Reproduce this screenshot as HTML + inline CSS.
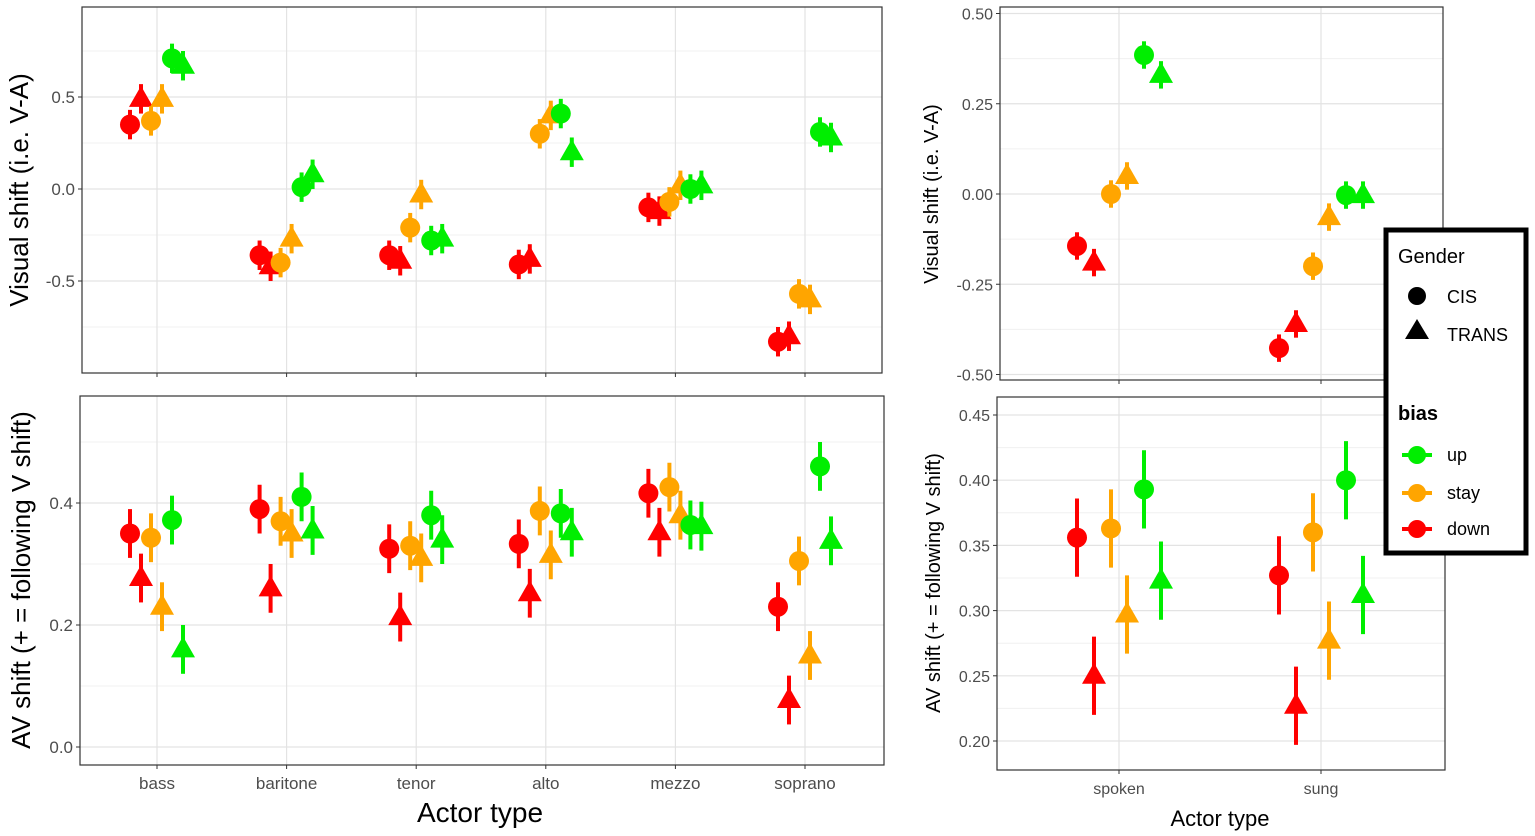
<!DOCTYPE html>
<html><head><meta charset="utf-8">
<style>
html,body{margin:0;padding:0;background:#fff;}
svg{display:block;font-family:"Liberation Sans",sans-serif;}
</style></head>
<body>
<svg id="chart" width="1535" height="836" viewBox="0 0 1535 836" xmlns="http://www.w3.org/2000/svg"></svg>
<script>
// ---- Data ----
const leftCategories = ["bass","baritone","tenor","alto","mezzo","soprano"];
const rightCategories = ["spoken","sung"];
const groups = ["down-CIS","down-TRANS","stay-CIS","stay-TRANS","up-CIS","up-TRANS"];
// Top-left: visual shift
const tlDownCis   = [0.35,-0.36,-0.36,-0.41,-0.10,-0.83];
const tlDownTrans = [0.49,-0.42,-0.39,-0.38,-0.12,-0.80];
const tlStayCis   = [0.37,-0.40,-0.21,0.30,-0.07,-0.57];
const tlStayTrans = [0.49,-0.27,-0.03,0.40,0.02,-0.60];
const tlUpCis     = [0.71,0.01,-0.28,0.41,0.00,0.31];
const tlUpTrans   = [0.67,0.08,-0.27,0.20,0.02,0.28];
const tlErr = 0.08;
// Bottom-left: AV shift
const blDownCis   = [0.35,0.39,0.325,0.333,0.416,0.23];
const blDownTrans = [0.277,0.26,0.213,0.252,0.352,0.077];
const blStayCis   = [0.343,0.37,0.33,0.387,0.426,0.305];
const blStayTrans = [0.23,0.35,0.31,0.315,0.38,0.15];
const blUpCis     = [0.372,0.41,0.38,0.383,0.364,0.46];
const blUpTrans   = [0.16,0.355,0.34,0.352,0.362,0.338];
const blErr = 0.04;
// Top-right
const trDownCis   = [-0.144,-0.427];
const trDownTrans = [-0.19,-0.36];
const trStayCis   = [0.0,-0.20];
const trStayTrans = [0.05,-0.064];
const trUpCis     = [0.385,-0.003];
const trUpTrans   = [0.33,-0.003];
const trErr = 0.038;
// Bottom-right
const brDownCis   = [0.356,0.327];
const brDownTrans = [0.25,0.227];
const brStayCis   = [0.363,0.36];
const brStayTrans = [0.297,0.277];
const brUpCis     = [0.393,0.40];
const brUpTrans   = [0.323,0.312];
const brErr = 0.03;
// Tick labels
const tlTicks = [-0.5,0.0,0.5];
const tlTickLabels = ["-0.5","0.0","0.5"];
const blTicks = [0.0,0.2,0.4];
const blTickLabels = ["0.0","0.2","0.4"];
const trTicks = [-0.5,-0.25,0,0.25,0.5];
const trTickLabels = ["-0.50","-0.25","0.00","0.25","0.50"];
const brTicks = [0.2,0.25,0.3,0.35,0.4,0.45];
const brTickLabels = ["0.20","0.25","0.30","0.35","0.40","0.45"];

const svg = document.getElementById('chart');
const NS = "http://www.w3.org/2000/svg";
function mk(tag, attrs, parent){const e=document.createElementNS(NS,tag);for(const k in attrs)e.setAttribute(k,attrs[k]);(parent||svg).appendChild(e);return e;}
const COL = {down:"#ff0000",stay:"#ffa500",up:"#00ee00"};
const groupColor=[COL.down,COL.down,COL.stay,COL.stay,COL.up,COL.up];
const groupTri=[false,true,false,true,false,true];

function panel(name, box, yfn, cats, xc, offsets, series, err, ticks, tickLabels, minors, showX, tickFont){
  const g = mk('g',{});
  
  
  mk('rect',{x:box.x0,y:box.y0,width:box.x1-box.x0,height:box.y1-box.y0,fill:'#fff'},g);
  minors.forEach(v=>mk('line',{x1:box.x0,x2:box.x1,y1:yfn(v),y2:yfn(v),stroke:'#f0f0f0','stroke-width':1},g));
  ticks.forEach((v,i)=>{
    mk('line',{x1:box.x0,x2:box.x1,y1:yfn(v),y2:yfn(v),stroke:'#e3e3e3','stroke-width':1.2},g);
    mk('line',{x1:box.x0-4,x2:box.x0,y1:yfn(v),y2:yfn(v),stroke:'#333','stroke-width':1},g);
    const t=mk('text',{x:box.x0-7,y:yfn(v)+6,'text-anchor':'end','font-size':tickFont,fill:'#4d4d4d'},g);
    
    
    t.textContent=tickLabels[i];
  });
  cats.forEach((c,i)=>{
    const x=xc(i);
    mk('line',{x1:x,x2:x,y1:box.y0,y2:box.y1,stroke:'#e3e3e3','stroke-width':1.2},g);
    mk('line',{x1:x,x2:x,y1:box.y1,y2:box.y1+4,stroke:'#333','stroke-width':1},g);
    if(showX){
      const t=mk('text',{x:x,y:box.y1+24,'text-anchor':'middle','font-size':tickFont,fill:'#4d4d4d'},g);
      
      
      t.textContent=c;
    }
  });
  series.forEach((vals,gi)=>{
    vals.forEach((v,ci)=>{
      const x=xc(ci)+offsets[gi];
      const y=yfn(v), col=groupColor[gi];
      mk('line',{x1:x,x2:x,y1:yfn(v+err),y2:yfn(v-err),stroke:col,'stroke-width':4},g);
      let m;
      if(groupTri[gi]) m=mk('polygon',{points:`${x},${y-13} ${x-12},${y+8} ${x+12},${y+8}`,fill:col},g);
      else m=mk('circle',{cx:x,cy:y,r:10,fill:col},g);
      
      
    });
  });
  mk('rect',{x:box.x0,y:box.y0,width:box.x1-box.x0,height:box.y1-box.y0,fill:'none',stroke:'#333','stroke-width':1.2},g);
}
const lOff=[-27,-16,-6,5,15,26];
const rOff=[-42,-25,-8,8,25,42];
const lx=i=>157+i*129.6;
const rx=i=>1119+i*202;

panel('top-left-panel',{x0:82,y0:7,x1:882,y1:373},v=>189-v*184,leftCategories,lx,lOff,
  [tlDownCis,tlDownTrans,tlStayCis,tlStayTrans,tlUpCis,tlUpTrans],tlErr,tlTicks,tlTickLabels,[-0.75,-0.25,0.25,0.75],false,17);
panel('bottom-left-panel',{x0:80,y0:396,x1:884,y1:765},v=>747-v*610,leftCategories,lx,lOff,
  [blDownCis,blDownTrans,blStayCis,blStayTrans,blUpCis,blUpTrans],blErr,blTicks,blTickLabels,[0.1,0.3,0.5],true,17);
panel('top-right-panel',{x0:1000,y0:7,x1:1443,y1:380},v=>194-v*361,rightCategories,rx,rOff,
  [trDownCis,trDownTrans,trStayCis,trStayTrans,trUpCis,trUpTrans],trErr,trTicks,trTickLabels,[-0.375,-0.125,0.125,0.375],false,16);
panel('bottom-right-panel',{x0:997,y0:397,x1:1445,y1:770},v=>415+(0.45-v)*1304,rightCategories,rx,rOff,
  [brDownCis,brDownTrans,brStayCis,brStayTrans,brUpCis,brUpTrans],brErr,brTicks,brTickLabels,[0.225,0.275,0.325,0.375,0.425],true,16);

function label(txt,x,y,size,rot,name){
  const t=mk('text',{x:x,y:y,'text-anchor':'middle','font-size':size,fill:'#000'});
  if(rot) t.setAttribute('transform',`rotate(-90 ${x} ${y})`);
  
  
  t.textContent=txt;
}
label('Visual shift (i.e. V-A)',28,190,26,true,'y-axis-title-top-left');
label('AV shift (+ = following V shift)',30,580,26,true,'y-axis-title-bottom-left');
label('Actor type',480,822,28,false,'x-axis-title-left');
label('Visual shift (i.e. V-A)',938,194,20,true,'y-axis-title-top-right');
label('AV shift (+ = following V shift)',940,583,20,true,'y-axis-title-bottom-right');
label('Actor type',1220,826,22,false,'x-axis-title-right');

// Legend
const lg=mk('g',{});


mk('rect',{x:1386,y:230,width:140,height:323,fill:'#fff',stroke:'#000','stroke-width':5},lg);
function lt(txt,x,y,size,w){const t=mk('text',{x:x,y:y,'font-size':size,'font-weight':w||'normal',fill:'#000'},lg);t.textContent=txt;}
lt('Gender',1398,263,20);
mk('circle',{cx:1417,cy:296,r:9,fill:'#000'},lg);
lt('CIS',1447,303,18);
mk('polygon',{points:'1417,319 1405,339 1429,339',fill:'#000'},lg);
lt('TRANS',1447,341,18);
lt('bias',1398,420,20,'bold');
[['up',COL.up,455],['stay',COL.stay,493],['down',COL.down,529]].forEach(([n,c,y])=>{
  const e=mk('g',{},lg);
  
  
  mk('line',{x1:1402,x2:1432,y1:y,y2:y,stroke:c,'stroke-width':4},e);
  mk('circle',{cx:1417,cy:y,r:9,fill:c},e);
  const t=mk('text',{x:1447,y:y+6,'font-size':18,fill:'#000'},e);
  t.textContent=n;
});
</script>
</body></html>
